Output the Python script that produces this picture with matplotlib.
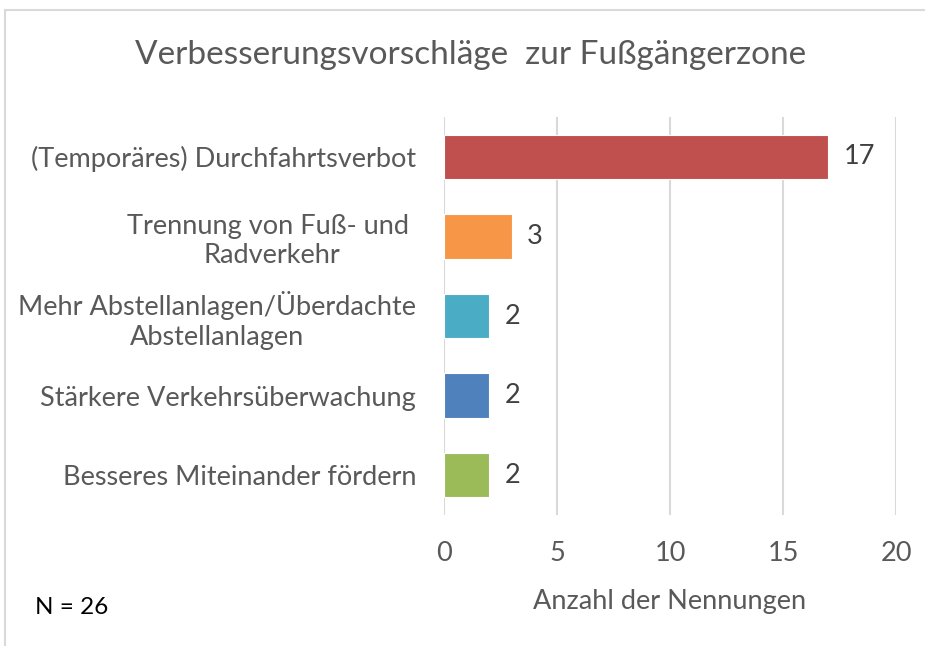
import matplotlib
matplotlib.use("Agg")
import matplotlib.pyplot as plt
from matplotlib.patches import Rectangle

categories = [
    "(Temporäres) Durchfahrtsverbot",
    "Trennung von Fuß- und \nRadverkehr",
    "Mehr Abstellanlagen/Überdachte\nAbstellanlagen",
    "Stärkere Verkehrsüberwachung",
    "Besseres Miteinander fördern",
]
values = [17, 3, 2, 2, 2]
colors = ["#C0504D", "#F79646", "#4BACC6", "#4F81BD", "#9BBB59"]
xticks = [0, 5, 10, 15, 20]
title = "Verbesserungsvorschläge  zur Fußgängerzone"
xlabel = "Anzahl der Nennungen"
note = "N = 26"

plt.rcParams['font.family'] = ['Lato', 'DejaVu Sans']
txt = "#595959"
fs = 19.5

fig = plt.figure(figsize=(9.25, 6.46), dpi=100)
fig.patch.set_facecolor("white")
# chart frame
fig.patches.append(Rectangle((5/925, -0.1), 1.2, 1 - 10/646 + 0.1, transform=fig.transFigure,
                             fill=False, edgecolor="#D9D9D9", linewidth=1.5))

ax = fig.add_axes([444/925, 1 - 515/646, (896 - 444)/925, (515 - 117)/646])
y = list(range(len(categories)))
ax.barh(y, values, height=0.56, color=colors, edgecolor="white", linewidth=0.8, zorder=3)
ax.set_ylim(len(categories) - 0.5, -0.5)
ax.set_xlim(0, 20)
ax.set_xticks(xticks)
ax.set_xticklabels([str(t) for t in xticks], fontsize=fs, color=txt)
ax.set_yticks(y)
ax.set_yticklabels(categories, fontsize=fs, color=txt, multialignment="center", linespacing=1.2)
ax.tick_params(axis="both", length=0)
ax.tick_params(axis="y", pad=20)
ax.tick_params(axis="x", pad=19)
ax.grid(axis="x", color="#D9D9D9", linewidth=1.5, zorder=0)
for s in ax.spines.values():
    s.set_visible(False)

for yi, v in zip(y, values):
    ax.text(v + 0.68, yi, str(v), va="center", ha="left", fontsize=fs, color="#404040")

ax.set_xlabel(xlabel, fontsize=fs, color=txt, labelpad=16)
fig.text(471/925, 1 - 55/646, title, ha="center", va="center", fontsize=24, color=txt)
fig.text(35/925, 1 - 607/646, note, ha="left", va="center", fontsize=17.5, color="black")

fig.savefig("out.png", dpi=100, facecolor="white")
